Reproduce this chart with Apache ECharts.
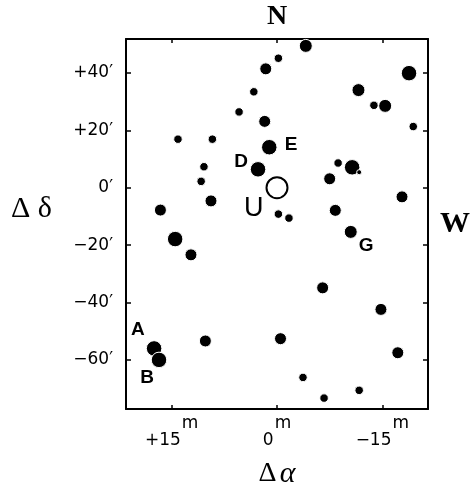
<!DOCTYPE html>
<html>
<head>
<meta charset="utf-8">
<script src="https://cdn.jsdelivr.net/npm/echarts@6/dist/echarts.min.js"></script>
<style>
html,body{margin:0;padding:0;background:#fff;}
#c{width:471px;height:484px;}
</style>
</head>
<body>
<div id="c"></div>
<script>
// Right-ascension offsets (minutes of time, + = east) of field stars
const raOffsets = [-4.1, -0.2, 1.6, -18.8, 3.3, -11.6, 5.4, -13.8, -15.4, 1.75,
  -19.4, 14.1, 9.2, 1.1, 10.4, 2.7, -8.7, -10.7, -11.7, 10.8,
  -7.5, 9.4, 16.6, -17.8, -0.2, -1.7, -8.3, 14.5, -10.5, 12.25,
  -6.5, -14.8, 10.2, -0.5, 17.5, 16.8, -17.2, -3.7, -11.7, -6.7];
// Declination offsets (arcmin)
const decOffsets = [49.4, 45.1, 41.4, 39.9, 33.4, 34.0, 26.4, 28.7, 28.5, 23.1,
  21.3, 16.9, 16.9, 14.1, 7.3, 6.4, 8.6, 7.1, 5.4, 2.2,
  3.1, -4.6, -7.8, -3.2, -9.2, -10.6, -7.9, -17.9, -15.4, -23.4,
  -34.9, -42.4, -53.4, -52.6, -56.0, -60.0, -57.5, -66.1, -70.6, -73.3];
// Brightness class (1 = faintest, 5 = brightest)
const brightClass = [4, 2, 3, 5, 2, 4, 2, 2, 4, 3,
  2, 2, 2, 5, 2, 5, 2, 5, 1, 2,
  3, 3, 3, 3, 2, 2, 3, 5, 4, 3,
  3, 3, 3, 3, 5, 5, 3, 2, 2, 2];
// Central object U
const centerRa = [0];
const centerDec = [0];
// Labels: text and their data positions
const labelTexts = ['A', 'B', 'D', 'E', 'G', 'U'];
const labelRa = [19.8, 18.5, 5.1, -2.0, -12.7, 3.3];
const labelDec = [-49.6, -66.3, 9.1, 15.1, -20.3, -7.1];
// Tick values
const decTicks = [-60, -40, -20, 0, 20, 40];
const raTicks = [15, 0, -15];

const sizeOf = {1: 5, 2: 8.5, 3: 12, 4: 13, 5: 15.5};

const stars = raOffsets.map((x, i) => [x, decOffsets[i], brightClass[i]]);
const center = centerRa.map((x, i) => [x, centerDec[i]]);
const labels = labelTexts.map((t, i) => ({name: t, value: [labelRa[i], labelDec[i]]}));

function fmtDec(v) {
  if (v > 0) return '+' + v + '\u2032';
  if (v < 0) return '\u2212' + (-v) + '\u2032';
  return '0\u2032';
}
function fmtRa(v) {
  let s = v > 0 ? '+' + v : (v < 0 ? '\u2212' + (-v) : '0');
  return '{n|' + s + '}{m|m}';
}

const chart = echarts.init(document.getElementById('c'), null, {renderer: 'canvas'});
const axisLine = {show: true, onZero: false, lineStyle: {color: '#000', width: 2}};
const yBase = {
  type: 'value', min: -77.1, max: 51.8,
  axisLine: axisLine, splitLine: {show: false},
  axisTick: {show: true, inside: true, length: 5, customValues: decTicks, lineStyle: {color: '#000', width: 1.5}}
};
const xBase = {
  type: 'value', min: -21.5, max: 21.5, inverse: true,
  axisLine: axisLine, splitLine: {show: false},
  axisTick: {show: true, inside: true, length: 4, customValues: raTicks, lineStyle: {color: '#000', width: 1.5}}
};
chart.setOption({
  animation: false,
  backgroundColor: '#fff',
  grid: {left: 126, right: 43, top: 39, bottom: 75, containLabel: false, outerBoundsMode: 'none'},
  xAxis: [
    Object.assign({}, xBase, {
      position: 'bottom',
      axisLabel: {
        show: true, margin: 6, customValues: raTicks,
        formatter: fmtRa,
        rich: {
          n: {fontFamily: 'DejaVu Sans', fontSize: 17, color: '#000', lineHeight: 34, verticalAlign: 'bottom'},
          m: {fontFamily: 'DejaVu Sans', fontSize: 17, color: '#000', verticalAlign: 'top', padding: [0, 0, 0, 1]}
        }
      },
      name: '{d|\u0394} {a|\u03b1}',
      nameLocation: 'middle', nameGap: 50,
      nameTextStyle: {
        rich: {
          d: {fontFamily: 'Liberation Serif', fontSize: 28, color: '#000'},
          a: {fontFamily: 'Liberation Serif', fontSize: 30, fontStyle: 'italic', color: '#000'}
        }
      }
    }),
    Object.assign({}, xBase, {
      position: 'top',
      axisLabel: {show: false},
      name: 'N', nameLocation: 'middle', nameGap: 8,
      nameTextStyle: {fontFamily: 'Liberation Serif', fontWeight: 'bold', fontSize: 28, color: '#000'}
    })
  ],
  yAxis: [
    Object.assign({}, yBase, {
      position: 'left',
      axisLabel: {
        show: true, margin: 13, customValues: decTicks, formatter: fmtDec,
        fontFamily: 'DejaVu Sans', fontSize: 17, color: '#000'
      },
      name: '\u0394 \u03b4', nameLocation: 'middle', nameRotate: 0, nameGap: 74,
      nameTextStyle: {fontFamily: 'Liberation Serif', fontSize: 30, color: '#000', verticalAlign: 'bottom', lineHeight: 30}
    }),
    Object.assign({}, yBase, {
      position: 'right',
      axisLabel: {show: false},
      name: 'W', nameLocation: 'middle', nameRotate: 0, nameGap: 12,
      nameTextStyle: {fontFamily: 'Liberation Serif', fontWeight: 'bold', fontSize: 30, color: '#000'}
    })
  ],
  series: [
    {
      type: 'scatter', xAxisIndex: 0, yAxisIndex: 0,
      data: stars,
      symbol: 'circle',
      symbolSize: v => sizeOf[v[2]],
      itemStyle: {color: '#000', borderColor: '#fff', borderWidth: 1, opacity: 1},
      emphasis: {disabled: true}, silent: true
    },
    {
      type: 'scatter', xAxisIndex: 0, yAxisIndex: 0,
      data: center, symbol: 'circle', symbolSize: 21,
      itemStyle: {color: '#fff', borderColor: '#000', borderWidth: 2, opacity: 1},
      emphasis: {disabled: true}, silent: true
    },
    {
      type: 'scatter', xAxisIndex: 0, yAxisIndex: 0,
      data: labels, symbolSize: 0,
      itemStyle: {opacity: 1},
      label: {
        show: true, position: 'inside', color: '#000', opacity: 1, textBorderWidth: 0,
        formatter: p => p.name === 'U' ? '{u|U}' : '{b|' + p.name + '}',
        rich: {
          b: {fontFamily: 'Liberation Sans', fontWeight: 'bold', fontSize: 19, color: '#000'},
          u: {fontFamily: 'Liberation Sans', fontSize: 27, color: '#000'}
        }
      },
      emphasis: {disabled: true}, silent: true
    }
  ]
});
</script>
</body>
</html>
